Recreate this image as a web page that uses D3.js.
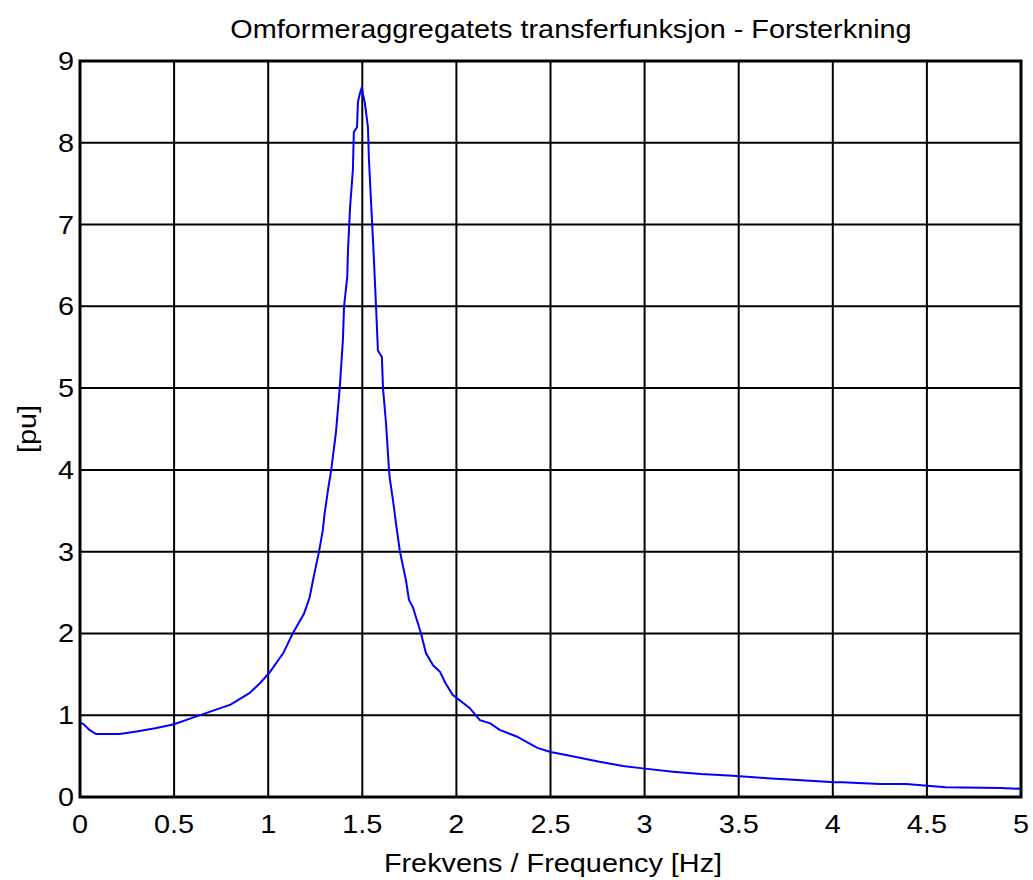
<!DOCTYPE html>
<html><head><meta charset="utf-8">
<script src="https://cdn.jsdelivr.net/npm/d3@7/dist/d3.min.js"></script>
<style>body{margin:0;background:#fff}svg{display:block}</style>
</head><body>
<script>
const freq = [0,0,0.02,0.05,0.085,0.21,0.3,0.4,0.5,0.6,0.7,0.8,0.9,0.96,1.01,1.08,1.13,1.19,1.22,1.245,1.27,1.29,1.30,1.32,1.335,1.36,1.38,1.397,1.403,1.42,1.424,1.435,1.45,1.455,1.472,1.477,1.487,1.498,1.503,1.514,1.530,1.535,1.546,1.557,1.562,1.573,1.583,1.604,1.610,1.626,1.642,1.647,1.663,1.684,1.70,1.732,1.748,1.769,1.812,1.838,1.876,1.913,1.94,1.98,2.07,2.125,2.18,2.23,2.32,2.43,2.5,2.59,2.76,2.885,2.99,3.15,3.3,3.47,3.65,3.79,4.01,4.05,4.25,4.39,4.6,4.89,5.0];
const gain = [0,0.91,0.89,0.82,0.77,0.77,0.80,0.84,0.89,0.97,1.05,1.13,1.27,1.4,1.53,1.76,2.0,2.24,2.44,2.73,3.0,3.26,3.47,3.79,4.0,4.46,5.0,5.59,6.0,6.36,6.69,7.21,7.67,8.13,8.19,8.5,8.6,8.68,8.6,8.48,8.19,7.81,7.3,6.8,6.56,6.0,5.46,5.38,5.0,4.57,4.0,3.88,3.63,3.26,3.0,2.65,2.41,2.32,2.0,1.76,1.61,1.53,1.4,1.25,1.09,0.94,0.9,0.82,0.74,0.6,0.55,0.51,0.43,0.38,0.35,0.31,0.28,0.26,0.23,0.21,0.18,0.18,0.16,0.16,0.12,0.11,0.10];
const xTicks = [0,0.5,1,1.5,2,2.5,3,3.5,4,4.5,5];
const xTickLabels = ["0","0.5","1","1.5","2","2.5","3","3.5","4","4.5","5"];
const yTicks = [0,1,2,3,4,5,6,7,8,9];
const yTickLabels = ["0","1","2","3","4","5","6","7","8","9"];
const titleText = "Omformeraggregatets transferfunksjon - Forsterkning";
const xLabel = "Frekvens / Frequency [Hz]";
const yLabel = "[pu]";

const W = 1033, H = 880;
const L = 80, R = 1021, T = 61, B = 797;
const svg = d3.select("body").append("svg").attr("width", W).attr("height", H);
const x = d3.scaleLinear().domain([0,5]).range([L,R]);
const y = d3.scaleLinear().domain([0,9]).range([B,T]);
const font = "Liberation Sans, Arial, sans-serif";
const FS = 26, SX = 1.11;

function label(px, py, txt, anchor, rot) {
  const gg = svg.append("g").attr("transform", `translate(${px},${py})` + (rot ? ` rotate(${rot})` : ""));
  gg.append("text").attr("transform", `scale(${SX},1)`).attr("text-anchor", anchor)
    .attr("font-family", font).attr("font-size", FS).attr("fill", "#000").text(txt);
}

const g = svg.append("g");
g.selectAll(".vg").data(xTicks).enter().append("line")
  .attr("x1", d=>x(d)).attr("x2", d=>x(d)).attr("y1", T).attr("y2", B)
  .attr("stroke", "#000").attr("stroke-width", 2);
g.selectAll(".hg").data(yTicks).enter().append("line")
  .attr("y1", d=>y(d)).attr("y2", d=>y(d)).attr("x1", L).attr("x2", R)
  .attr("stroke", "#000").attr("stroke-width", 2);

const pts = freq.map((f,i)=>[f,gain[i]]);
g.append("path").datum(pts)
  .attr("d", d3.line().x(d=>x(d[0])).y(d=>y(d[1])))
  .attr("fill","none").attr("stroke","#0000ff").attr("stroke-width",2);

g.append("rect").attr("x",L).attr("y",T).attr("width",R-L).attr("height",B-T)
  .attr("fill","none").attr("stroke","#000").attr("stroke-width",3);

xTicks.forEach((d,i)=>label(x(d), 833, xTickLabels[i], "middle"));
yTicks.forEach((d,i)=>label(L-6, y(d)+9, yTickLabels[i], "end"));

label(571, 38, titleText, "middle");
label(553, 872, xLabel, "middle");
label(36, (T+B)/2, yLabel, "middle", -90);
</script>
</body></html>
